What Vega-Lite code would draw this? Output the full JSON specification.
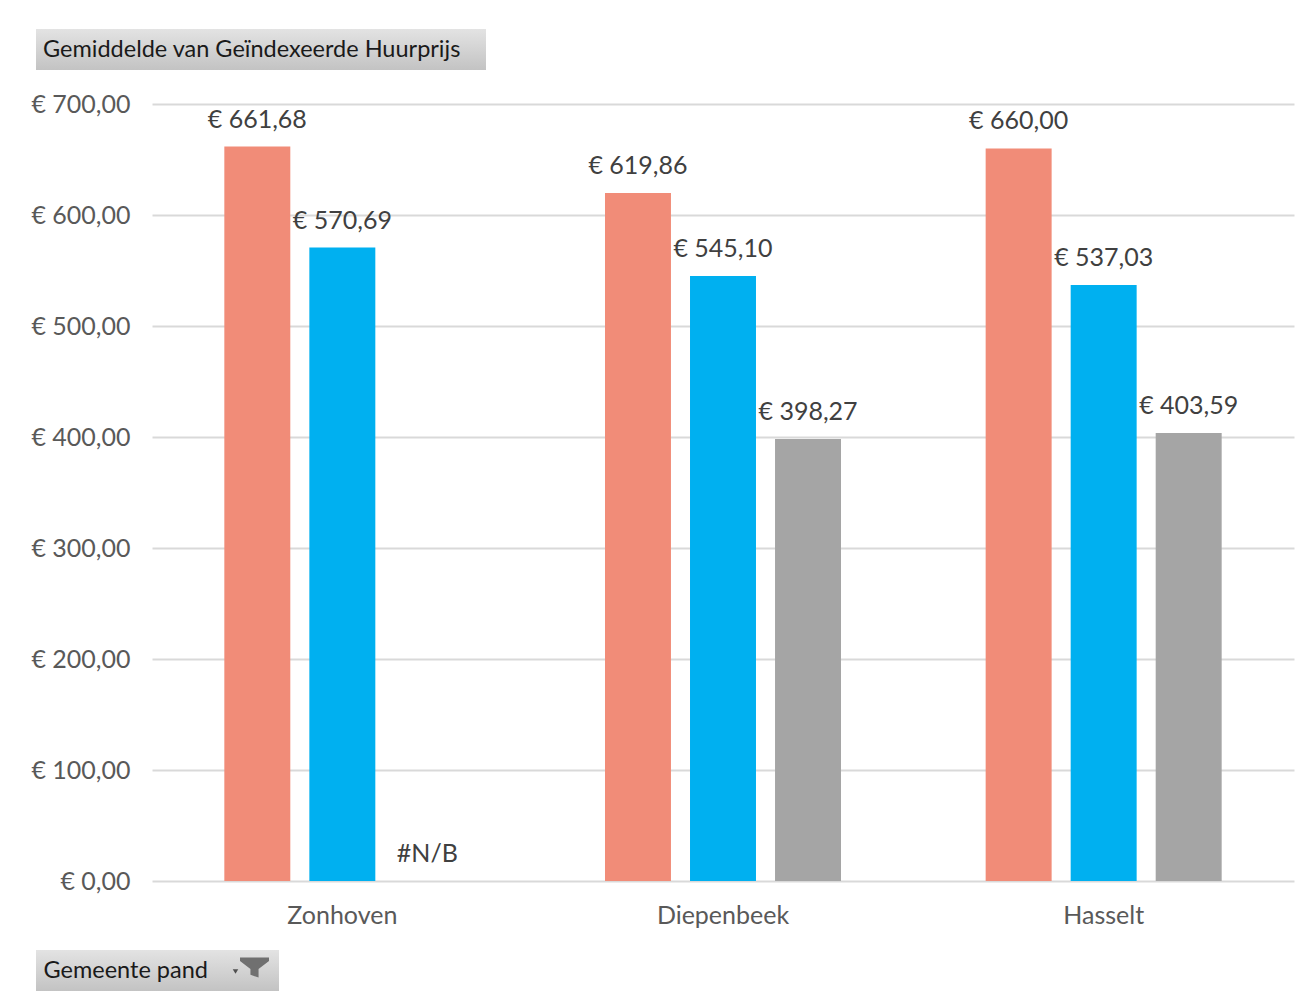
{
  "$schema": "https://vega.github.io/schema/vega-lite/v6.json",
  "background": "white",
  "padding": {"left": 30, "top": 29, "right": 10, "bottom": 5},
  "spacing": 22,
  "config": {
    "locale": {
      "number": {"decimal": ",", "thousands": ".", "grouping": [3], "currency": ["€ ", ""]}
    },
    "font": "Lato",
    "view": {"stroke": null},
    "axis": {
      "labelFont": "Lato",
      "labelFontSize": 25,
      "labelColor": "#595959",
      "domain": false,
      "ticks": false,
      "title": null
    }
  },
  "vconcat": [
    {
      "width": 450,
      "height": 41,
      "data": {"values": [{"veld": "Gemiddelde van Geïndexeerde Huurprijs"}]},
      "layer": [
        {
          "mark": {
            "type": "point",
            "shape": "M-1,-0.0911L1,-0.0911L1,0.0911L-1,0.0911Z",
            "size": 202500,
            "filled": true,
            "opacity": 1,
            "strokeWidth": 0,
            "xOffset": -116,
            "fill": {
              "gradient": "linear", "x1": 0, "y1": 0, "x2": 0, "y2": 1,
              "stops": [{"offset": 0, "color": "#e3e3e3"}, {"offset": 1, "color": "#c3c3c3"}]
            }
          },
          "encoding": {}
        },
        {
          "mark": {"type": "text", "align": "left", "baseline": "middle", "dx": -334, "fontSize": 23.5, "color": "#1a1a1a"},
          "encoding": {"text": {"field": "veld"}}
        }
      ]
    },
    {
      "width": 1142,
      "height": 777,
      "data": {
        "values": [
          {"gemeente": "Zonhoven", "reeks": "Reeks 1", "huurprijs": 661.68},
          {"gemeente": "Zonhoven", "reeks": "Reeks 2", "huurprijs": 570.69},
          {"gemeente": "Zonhoven", "reeks": "Reeks 3", "huurprijs": null},
          {"gemeente": "Diepenbeek", "reeks": "Reeks 1", "huurprijs": 619.86},
          {"gemeente": "Diepenbeek", "reeks": "Reeks 2", "huurprijs": 545.10},
          {"gemeente": "Diepenbeek", "reeks": "Reeks 3", "huurprijs": 398.27},
          {"gemeente": "Hasselt", "reeks": "Reeks 1", "huurprijs": 660.00},
          {"gemeente": "Hasselt", "reeks": "Reeks 2", "huurprijs": 537.03},
          {"gemeente": "Hasselt", "reeks": "Reeks 3", "huurprijs": 403.59}
        ]
      },
      "encoding": {
        "x": {
          "field": "gemeente",
          "type": "nominal",
          "sort": ["Zonhoven", "Diepenbeek", "Hasselt"],
          "scale": {"paddingInner": 0.38, "paddingOuter": 0.19},
          "axis": {"labelAngle": 0, "labelPadding": 22, "grid": false}
        },
        "xOffset": {
          "field": "reeks",
          "type": "nominal",
          "scale": {"paddingInner": 0.224, "paddingOuter": 0}
        },
        "y": {
          "field": "huurprijs",
          "type": "quantitative",
          "scale": {"domain": [0, 700], "nice": false},
          "axis": {
            "values": [0, 100, 200, 300, 400, 500, 600, 700],
            "format": "$.2f",
            "grid": true,
            "gridColor": "#d9d9d9",
            "gridWidth": 2,
            "labelPadding": 22
          }
        }
      },
      "layer": [
        {
          "mark": {"type": "bar"},
          "encoding": {
            "color": {
              "field": "reeks",
              "type": "nominal",
              "scale": {"range": ["#F18C78", "#00B0F0", "#A5A5A5"]},
              "legend": null
            }
          }
        },
        {
          "mark": {
            "type": "text",
            "baseline": "alphabetic",
            "dy": -19,
            "fontSize": 25,
            "color": "#404040",
            "invalid": "show"
          },
          "encoding": {
            "text": {
              "condition": {"test": "!isValid(datum.huurprijs)", "value": "#N/B"},
              "field": "huurprijs",
              "type": "quantitative",
              "format": "$.2f"
            }
          }
        }
      ]
    },
    {
      "width": 243,
      "height": 41,
      "data": {"values": [{"veld": "Gemeente pand"}]},
      "layer": [
        {
          "mark": {
            "type": "point",
            "shape": "M-1,-0.1687L1,-0.1687L1,0.1687L-1,0.1687Z",
            "size": 59049,
            "filled": true,
            "opacity": 1,
            "strokeWidth": 0,
            "xOffset": -116,
            "fill": {
              "gradient": "linear", "x1": 0, "y1": 0, "x2": 0, "y2": 1,
              "stops": [{"offset": 0, "color": "#e3e3e3"}, {"offset": 1, "color": "#c3c3c3"}]
            }
          },
          "encoding": {}
        },
        {
          "mark": {"type": "text", "align": "left", "baseline": "middle", "dx": -230, "fontSize": 23.5, "color": "#1a1a1a"},
          "encoding": {"text": {"field": "veld"}}
        },
        {
          "mark": {
            "type": "point",
            "shape": "M-1,-0.69L1,-0.69L1,-0.45L0.28,0.1L0.28,0.69L-0.28,0.5L-0.28,0.1L-1,-0.45Z",
            "size": 841,
            "filled": true,
            "opacity": 1,
            "strokeWidth": 0,
            "color": "#707070",
            "xOffset": -19,
            "yOffset": -3
          },
          "encoding": {}
        },
        {
          "mark": {
            "type": "point",
            "shape": "triangle-down",
            "size": 30,
            "filled": true,
            "opacity": 1,
            "strokeWidth": 0,
            "color": "#505050",
            "xOffset": -38,
            "yOffset": 1
          },
          "encoding": {}
        }
      ]
    }
  ]
}
